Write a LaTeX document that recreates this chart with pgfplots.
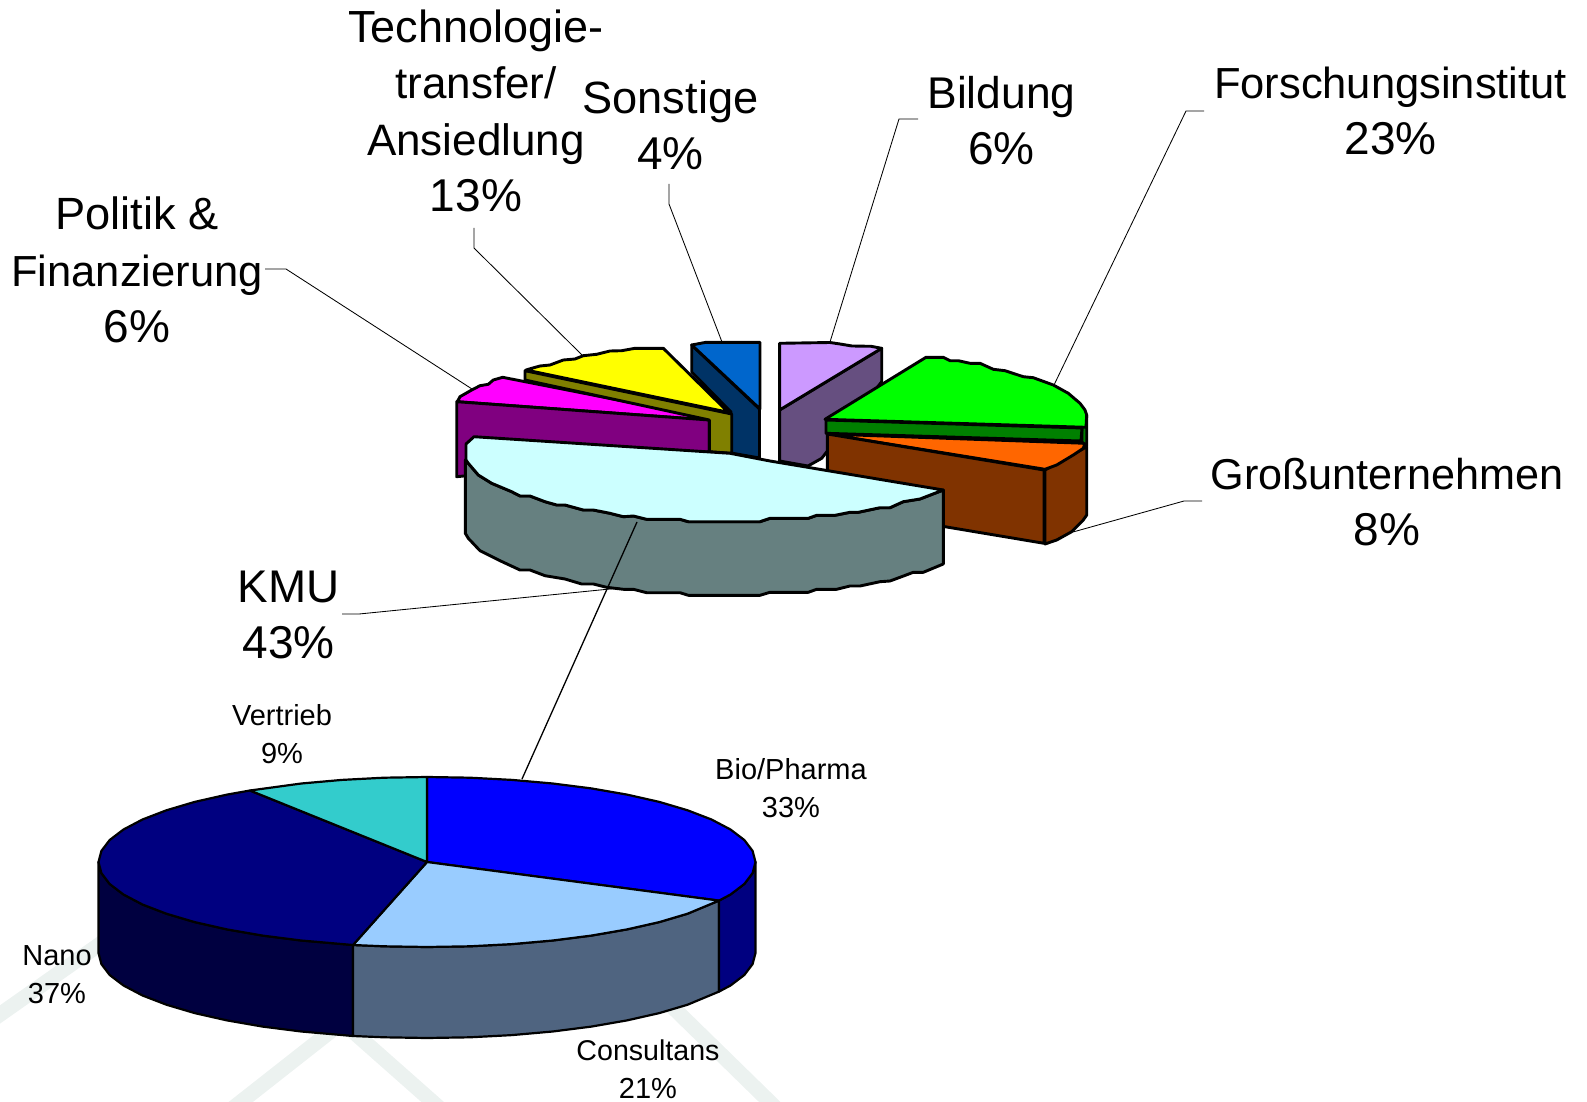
\documentclass[border=0pt]{standalone}
\usepackage{pgfplots}
\pgfplotsset{compat=1.18}
\usepackage{fontspec}
\setmainfont{Liberation Sans}
\definecolor{cSon}{HTML}{0066CC}\definecolor{cSonS}{HTML}{003366}
\definecolor{cBil}{HTML}{CC99FF}\definecolor{cBilS}{HTML}{664F80}
\definecolor{cFor}{HTML}{00FF00}\definecolor{cForS}{HTML}{008000}
\definecolor{cGro}{HTML}{FF6600}\definecolor{cGroS}{HTML}{803300}
\definecolor{cPol}{HTML}{FF00FF}\definecolor{cPolS}{HTML}{800080}
\definecolor{cTec}{HTML}{FFFF00}\definecolor{cTecS}{HTML}{808000}
\definecolor{cKmu}{HTML}{CCFFFF}\definecolor{cKmuS}{HTML}{668080}
\definecolor{cBio}{HTML}{0000FF}\definecolor{cNan}{HTML}{000080}\definecolor{cNanS}{HTML}{000040}
\definecolor{cCon}{HTML}{99CCFF}\definecolor{cConS}{HTML}{4F6480}\definecolor{cVer}{HTML}{33CCCC}
\definecolor{wm}{HTML}{ECF2F0}
\newcommand{\fs}[2]{{\fontsize{#1}{28.2}\selectfont #2}}
\tikzset{big/.style={align=center,font=\fontsize{21.75}{28.2}\selectfont},
small/.style={align=center,font=\fontsize{14.5}{19}\selectfont}}
\pgfplotsset{top/.style={draw=black,line width=1.45pt,line join=round},
low/.style={draw=black,line width=1.1pt,line join=round},
lead/.style={draw=black,line width=0.42pt},
band/.style={wm,line width=7.5pt}}
\begin{document}
\begin{tikzpicture}
\useasboundingbox (0,0) rectangle (793.5pt,551pt);
\begin{axis}[at={(0,0)},anchor=south west,width=793.5pt,height=551pt,scale only axis,
xmin=0,xmax=1587,ymin=0,ymax=1102,y dir=reverse,axis lines=none,clip=false]
% watermark
\addplot[band] coordinates {(-15,1025)(120,930)};
\addplot[band] coordinates {(228,1112)(345,1020)};
\addplot[band] coordinates {(340,1020)(444,1112)};
\addplot[band] coordinates {(650,985)(780,1112)};
% leaders behind the pies
\addplot[lead] coordinates {(1204,111)(1186,111)(1054,385)};
\addplot[lead] coordinates {(918,119)(899,119)(830,342)};
\addplot[lead] coordinates {(669,184)(669,204)(722,342)};
\addplot[lead] coordinates {(474,228)(474,248)(583,356)};
\addplot[lead] coordinates {(265,269)(286,269)(472,389)};
\addplot[lead] coordinates {(1202,501)(1184,501)(1073,532)};
% Sonstige
\addplot[top,fill=cSonS] coordinates {(691.7,345)(759.5,409)(759.5,458)(731,453)(731,412)(691.7,372)} -- cycle;
\addplot[top,fill=cSon] coordinates {(691.7,345)(706,342.3)(760,342.3)(760,409)} -- cycle;
% Bildung
\addplot[top,fill=cBilS] coordinates {(881.7,348.3)(881.7,381.7)(821.7,458.3)(808,466)(779.6,461)(779.6,410)} -- cycle;
\addplot[top,fill=cBil] coordinates {(779.6,343.3)(830,342.5)(840,344)(852,346)(871,346.3)(881.7,348.3)(779.6,410)} -- cycle;
% Grossunternehmen
\addplot[top,fill=cGroS] coordinates {(1045,470)(1086.7,446.7)(1086.7,515)(1083.3,520)(1071.7,531.7)(1056.7,540)(1045,544)} -- cycle;
\addplot[top,fill=cGro] coordinates {(827,434)(1085,443.3)(1083.3,448.3)(1073.3,455)(1056.7,465)(1045,469.3)} -- cycle;
\addplot[top,fill=cGroS] coordinates {(827.3,434)(1044,470)(1044,543.3)(827.3,507)} -- cycle;
% Forschung
\addplot[top,fill=cForS] coordinates {(1082,427)(1086.7,415)(1086.7,446)(1082,442)} -- cycle;
\addplot[top,fill=cForS] coordinates {(826,420)(1082,428)(1081,441)(826,433.3)} -- cycle;
\addplot[top,fill=cFor] coordinates {(825,419.3)(926,357.3)(943.3,357.3)(950,360.7)(958.3,360.7)(970,363.3)(980,363.3)(993.3,369.3)(1005,370.7)(1023.3,376.7)(1033.3,377.7)(1053.3,385)(1068.3,393.3)(1080,403.3)(1085,410)(1086.7,415)(1086,427.3)} -- cycle;
% Politik
\addplot[top,fill=cPol] coordinates {(457.3,401.7)(460,396.7)(471.7,390)(480,385.7)(488.3,384.3)(493.3,380)(502.7,377.3)(720,420)(709,420)} -- cycle;
\addplot[top,fill=cPolS] coordinates {(456.7,401.7)(709.3,420)(709.3,451.7)(456.7,476.7)} -- cycle;
% Technologie
\addplot[top,fill=cTecS] coordinates {(525,370.7)(731.7,414)(731.7,453.3)(709.3,451.7)(709.3,420)(525,380)} -- cycle;
\addplot[top,fill=cTec] coordinates {(526,370)(531.7,368.3)(540,366)(550,365)(563.3,360)(575,359)(583.3,355.7)(596.7,354.3)(610,351)(621.7,350.7)(635,348.3)(663.3,348.3)(728.3,412.3)} -- cycle;
% KMU
\addplot[top,fill=cKmuS] coordinates {(465.3,460)(468.3,463.3)(478.3,475)(491.7,483.3)(511.7,491.7)(520,496)(530,496)(545,501.7)(556.7,505)(565,505)(583.3,510)(593.3,510)(610,513.3)(623.3,516.7)(633.3,516)(646.7,519.3)(680,519.3)(688.3,521.7)(760,521.7)(770,518.3)(808.3,518.3)(816.7,515.3)(835,515.3)(850,512.3)(858.3,512.3)(880,507.7)(890,507.7)(903.3,501.7)(920,499)(943.3,490)(943.3,564)(923.3,572.3)(913.3,572.3)(900,577.3)(890,581)(880,581.7)(860,586)(850,586)(836.7,589.3)(816.7,589.3)(808.3,592.3)(770,592.3)(760,595.3)(688.3,595.3)(680,592.7)(646.7,592.7)(633.3,589.3)(623.3,589.3)(606.7,587.3)(593.3,584)(581.7,584)(565,579)(545,575.7)(530,570)(520,570)(500,560.7)(480,550.7)(468.3,538.3)(465.3,533.3)} -- cycle;
\addplot[top,fill=cKmu] coordinates {(474,436.7)(730,453.3)(770,461)(943.3,490)(920,499)(903.3,501.7)(890,507.7)(880,507.7)(858.3,512.3)(850,512.3)(835,515.3)(816.7,515.3)(808.3,518.3)(770,518.3)(760,521.7)(688.3,521.7)(680,519.3)(646.7,519.3)(633.3,516)(623.3,516.7)(610,513.3)(593.3,510)(583.3,510)(565,505)(556.7,505)(545,501.7)(530,496)(520,496)(511.7,491.7)(491.7,483.3)(478.3,475)(468.3,463.3)(466,460)(466,444)} -- cycle;
% leaders on top of KMU
\addplot[lead] coordinates {(342,614)(359,614)(620,588)};
\addplot[draw=black,line width=0.65pt] coordinates {(637,522)(522,779)};
% lower pie sides
\addplot[low,fill=cNanS] coordinates {(98.5,862)(101.4,873.1)(109.7,884)(123.5,894.5)(142.5,904.5)(166.4,913.7)(194.7,922.1)(227,929.4)(262.7,935.6)(301.3,940.5)(353,945)(353,1036)(301.3,1031.5)(262.7,1026.6)(227,1020.4)(194.7,1013.1)(166.4,1004.7)(142.5,995.5)(123.5,985.5)(109.7,975)(101.4,964.1)(98.5,953)} -- cycle;
\addplot[low,fill=cConS] coordinates {(353,945)(384.1,946.3)(427,947)(469.9,946.3)(512,944.1)(552.7,940.5)(591.3,935.6)(627,929.4)(659.3,922.1)(687.6,913.7)(719,900.6)(719,991.6)(687.6,1004.7)(659.3,1013.1)(627,1020.4)(591.3,1026.6)(552.7,1031.5)(512,1035.1)(469.9,1037.3)(427,1038)(384.1,1037.3)(353,1036)} -- cycle;
\addplot[low,fill=cNan] coordinates {(719,900.6)(730.5,894.5)(744.3,884)(752.6,873.1)(755.5,862)(755.5,953)(752.6,964.1)(744.3,975)(730.5,985.5)(719,991.6)} -- cycle;
% lower pie top
\addplot[low,fill=cBio] coordinates {(427,862)(427,777)(469.9,777.7)(512,779.9)(552.7,783.5)(591.3,788.4)(627,794.6)(659.3,801.9)(687.6,810.3)(711.5,819.5)(730.5,829.5)(744.3,840)(752.6,850.9)(755.5,862)(752.6,873.1)(744.3,884)(730.5,894.5)(719,900.6)} -- cycle;
\addplot[low,fill=cCon] coordinates {(427,862)(719,900.6)(687.6,913.7)(659.3,922.1)(627,929.4)(591.3,935.6)(552.7,940.5)(512,944.1)(469.9,946.3)(427,947)(384.1,946.3)(353,945)} -- cycle;
\addplot[low,fill=cNan] coordinates {(427,862)(353,945)(301.3,940.5)(262.7,935.6)(227,929.4)(194.7,922.1)(166.4,913.7)(142.5,904.5)(123.5,894.5)(109.7,884)(101.4,873.1)(98.5,862)(101.4,850.9)(109.7,840)(123.5,829.5)(142.5,819.5)(166.4,810.3)(194.7,801.9)(227,794.6)(250,790.5)} -- cycle;
\addplot[low,fill=cVer] coordinates {(427,862)(250,790.5)(301.3,783.5)(342,779.9)(384.1,777.7)(427,777)} -- cycle;
% labels
\node[big] at (axis cs:476,111) {\fs{22.5}{Technologie-}\\\fs{22}{transfer/}\\\fs{22}{Ansiedlung}\\\fs{23}{13\%}};
\node[big] at (axis cs:670.5,125) {\fs{22.6}{Sonstige}\\\fs{23}{4\%}};
\node[big] at (axis cs:1001.5,120.5) {\fs{22.2}{Bildung}\\\fs{23}{6\%}};
\node[big] at (axis cs:1390.5,111) {Forschungsinstitut\\\fs{23}{23\%}};
\node[big] at (axis cs:1387,502) {\fs{21.6}{Großunternehmen}\\\fs{23}{8\%}};
\node[big] at (axis cs:137,270) {\fs{22.6}{Politik \&}\\Finanzierung\\\fs{23}{6\%}};
\node[big] at (axis cs:288.5,615) {\fs{22.9}{KMU}\\\fs{23}{43\%}};
\node[small] at (axis cs:282,734) {Vertrieb\\9\%};
\node[small] at (axis cs:791,788) {Bio/Pharma\\33\%};
\node[small] at (axis cs:57,975) {Nano\\37\%};
\node[small] at (axis cs:648,1069) {\fontsize{14.3}{19}\selectfont Consultans\\21\%};
\end{axis}
\end{tikzpicture}
\end{document}
